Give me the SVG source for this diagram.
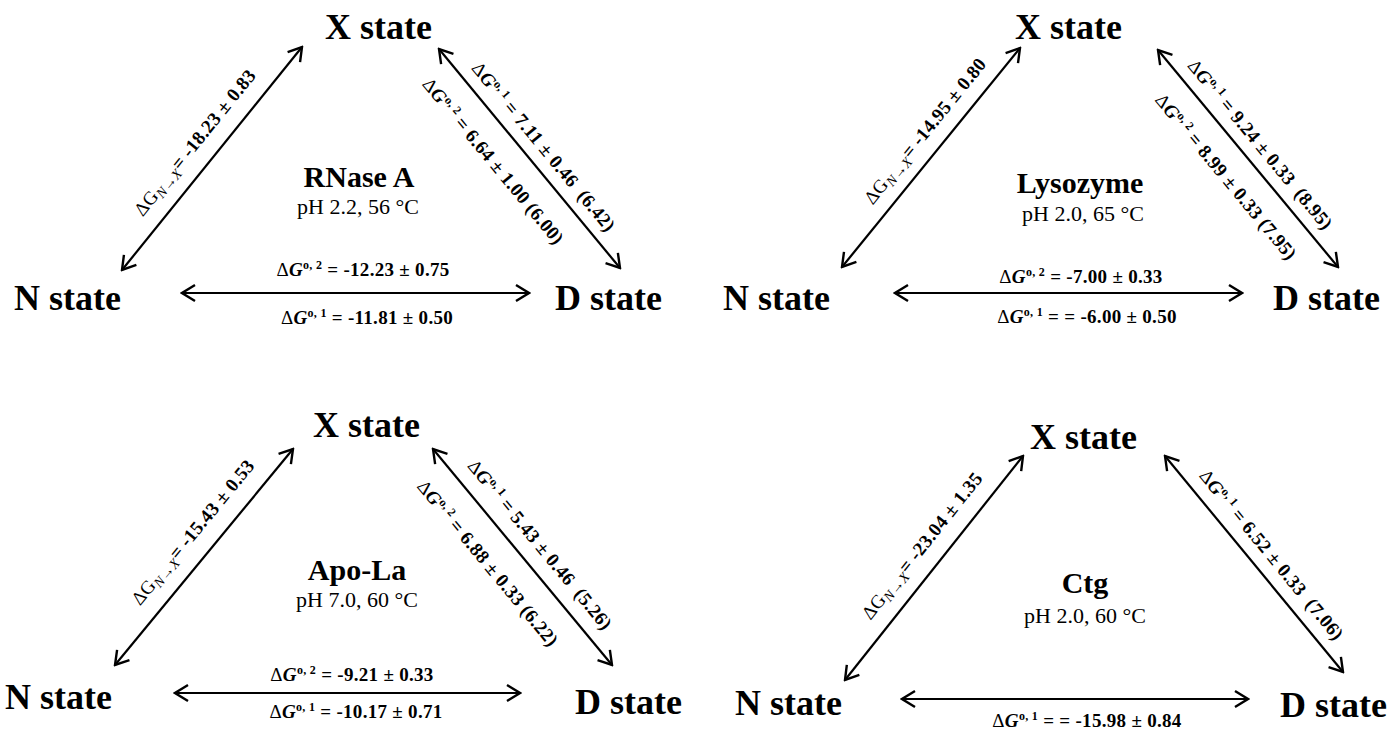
<svg xmlns="http://www.w3.org/2000/svg" width="1397" height="732" viewBox="0 0 1397 732">
<defs>
<marker id="ah" viewBox="-16 -10 18 20" markerWidth="18" markerHeight="20" refX="0" refY="0" orient="auto-start-reverse" markerUnits="userSpaceOnUse">
<path d="M-13,-8 L0,0 L-13,8" fill="none" stroke="#000" stroke-width="2.4" stroke-linejoin="miter"/>
</marker>
<style>
text{font-family:"Liberation Serif","Times New Roman",serif;fill:#000}
.state{font-weight:bold;font-size:36px}
.title{font-weight:bold;font-size:30px;text-anchor:middle}
.cond{font-size:22px;text-anchor:middle}
.lbl{font-size:19px;letter-spacing:0.3px;white-space:pre}
.b{font-weight:bold}
.bi{font-weight:bold;font-style:italic}
.sub{font-style:italic;font-size:14px}
.sup{font-size:12px;font-weight:bold}
.conn line{stroke:#000;stroke-width:2.2;fill:none;marker-start:url(#ah);marker-end:url(#ah)}
</style>
</defs>
<rect width="1397" height="732" fill="#fff"/>

<g id="connectors" class="conn">
<line x1="122" y1="270" x2="302" y2="47"/>
<line x1="439" y1="49" x2="620" y2="268"/>
<line x1="182" y1="293" x2="529" y2="293"/>
<line x1="842" y1="267" x2="1020" y2="48"/>
<line x1="1158" y1="50" x2="1338" y2="267"/>
<line x1="895" y1="293" x2="1242" y2="293"/>
<line x1="115" y1="665" x2="293" y2="449"/>
<line x1="433" y1="449" x2="612" y2="665"/>
<line x1="175" y1="693" x2="520" y2="693"/>
<line x1="845" y1="680" x2="1023" y2="456"/>
<line x1="1165" y1="456" x2="1343" y2="672"/>
<line x1="902" y1="699" x2="1248" y2="699"/>
</g>

<!-- Panel 1: RNase A -->
<g id="rnase-x"><text class="state" x="325" y="39">X state</text></g>
<g id="rnase-n"><text class="state" x="14" y="310">N state</text></g>
<g id="rnase-d"><text class="state" x="555" y="310">D state</text></g>
<g id="rnase-title"><text class="title" x="359" y="187">RNase A</text><text class="cond" x="358" y="214">pH 2.2, 56 °C</text></g>
<g id="rnase-labels">
<text class="lbl" text-anchor="middle" transform="translate(122,270) rotate(-51.1)" x="145" y="-17">ΔG<tspan class="sub" dy="4">N→X</tspan><tspan class="b" dy="-4">= -18.23 ± 0.83</tspan></text>
<text class="lbl" text-anchor="middle" transform="translate(439,49) rotate(50.4)" x="142" y="-12">Δ<tspan class="bi">G</tspan><tspan class="sup" dy="-7">o, 1</tspan><tspan class="b" dy="7"> = 7.11 ± 0.46  (6.42)</tspan></text>
<text class="lbl" text-anchor="middle" transform="translate(439,49) rotate(50.4)" x="121" y="36">Δ<tspan class="bi">G</tspan><tspan class="sup" dy="-7">o, 2</tspan><tspan class="b" dy="7"> = 6.64 ± 1.00 (6.00)</tspan></text>
<text class="lbl" text-anchor="middle" x="363" y="276">Δ<tspan class="bi">G</tspan><tspan class="sup" dy="-7">o, 2</tspan><tspan class="b" dy="7"> = -12.23 ± 0.75</tspan></text>
<text class="lbl" text-anchor="middle" x="367" y="324">Δ<tspan class="bi">G</tspan><tspan class="sup" dy="-7">o, 1</tspan><tspan class="b" dy="7"> = -11.81 ± 0.50</tspan></text>
</g>

<!-- Panel 2: Lysozyme -->
<g id="lyso-x"><text class="state" x="1015" y="39">X state</text></g>
<g id="lyso-n"><text class="state" x="723" y="310">N state</text></g>
<g id="lyso-d"><text class="state" x="1273" y="310">D state</text></g>
<g id="lyso-title"><text class="title" x="1080" y="193">Lysozyme</text><text class="cond" x="1083" y="221">pH 2.0, 65 °C</text></g>
<g id="lyso-labels">
<text class="lbl" text-anchor="middle" transform="translate(842,267) rotate(-50.9)" x="158" y="-15">ΔG<tspan class="sub" dy="4">N→X</tspan><tspan class="b" dy="-4">= -14.95 ± 0.80</tspan></text>
<text class="lbl" text-anchor="middle" transform="translate(1158,50) rotate(50.3)" x="138" y="-12">Δ<tspan class="bi">G</tspan><tspan class="sup" dy="-7">o, 1</tspan><tspan class="b" dy="7"> = 9.24 ± 0.33  (8.95)</tspan></text>
<text class="lbl" text-anchor="middle" transform="translate(1158,50) rotate(50.3)" x="141" y="35">Δ<tspan class="bi">G</tspan><tspan class="sup" dy="-7">o, 2</tspan><tspan class="b" dy="7"> = 8.99 ± 0.33 (7.95)</tspan></text>
<text class="lbl" text-anchor="middle" x="1081" y="283">Δ<tspan class="bi">G</tspan><tspan class="sup" dy="-7">o, 2</tspan><tspan class="b" dy="7"> = -7.00 ± 0.33</tspan></text>
<text class="lbl" text-anchor="middle" x="1087" y="323">Δ<tspan class="bi">G</tspan><tspan class="sup" dy="-7">o, 1</tspan><tspan class="b" dy="7"> = = -6.00 ± 0.50</tspan></text>
</g>

<!-- Panel 3: Apo-La -->
<g id="apo-x"><text class="state" x="313" y="437">X state</text></g>
<g id="apo-n"><text class="state" x="5" y="709">N state</text></g>
<g id="apo-d"><text class="state" x="575" y="714">D state</text></g>
<g id="apo-title"><text class="title" x="357" y="580">Apo-La</text><text class="cond" x="357" y="607">pH 7.0, 60 °C</text></g>
<g id="apo-labels">
<text class="lbl" text-anchor="middle" transform="translate(115,665) rotate(-50.5)" x="152" y="-18">ΔG<tspan class="sub" dy="4">N→X</tspan><tspan class="b" dy="-4">= -15.43 ± 0.53</tspan></text>
<text class="lbl" text-anchor="middle" transform="translate(433,449) rotate(50.35)" x="142" y="-15">Δ<tspan class="bi">G</tspan><tspan class="sup" dy="-7">o, 1</tspan><tspan class="b" dy="7"> = 5.43 ± 0.46  (5.26)</tspan></text>
<text class="lbl" text-anchor="middle" transform="translate(433,449) rotate(50.35)" x="123" y="37">Δ<tspan class="bi">G</tspan><tspan class="sup" dy="-7">o, 2</tspan><tspan class="b" dy="7"> = 6.88 ± 0.33 (6.22)</tspan></text>
<text class="lbl" text-anchor="middle" x="352" y="681">Δ<tspan class="bi">G</tspan><tspan class="sup" dy="-7">o, 2</tspan><tspan class="b" dy="7"> = -9.21 ± 0.33</tspan></text>
<text class="lbl" text-anchor="middle" x="356" y="718">Δ<tspan class="bi">G</tspan><tspan class="sup" dy="-7">o, 1</tspan><tspan class="b" dy="7"> = -10.17 ± 0.71</tspan></text>
</g>

<!-- Panel 4: Ctg -->
<g id="ctg-x"><text class="state" x="1030" y="449">X state</text></g>
<g id="ctg-n"><text class="state" x="735" y="715">N state</text></g>
<g id="ctg-d"><text class="state" x="1280" y="717">D state</text></g>
<g id="ctg-title"><text class="title" x="1085" y="593">Ctg</text><text class="cond" x="1085" y="623">pH 2.0, 60 °C</text></g>
<g id="ctg-labels">
<text class="lbl" text-anchor="middle" transform="translate(845,680) rotate(-51.5)" x="153" y="-17">ΔG<tspan class="sub" dy="4">N→X</tspan><tspan class="b" dy="-4">= -23.04 ± 1.35</tspan></text>
<text class="lbl" text-anchor="middle" transform="translate(1165,456) rotate(50.5)" x="144" y="-13">Δ<tspan class="bi">G</tspan><tspan class="sup" dy="-7">o, 1</tspan><tspan class="b" dy="7"> = 6.52 ± 0.33  (7.06)</tspan></text>
<text class="lbl" text-anchor="middle" x="1087" y="727">Δ<tspan class="bi">G</tspan><tspan class="sup" dy="-7">o, 1</tspan><tspan class="b" dy="7"> = = -15.98 ± 0.84</tspan></text>
</g>
</svg>
